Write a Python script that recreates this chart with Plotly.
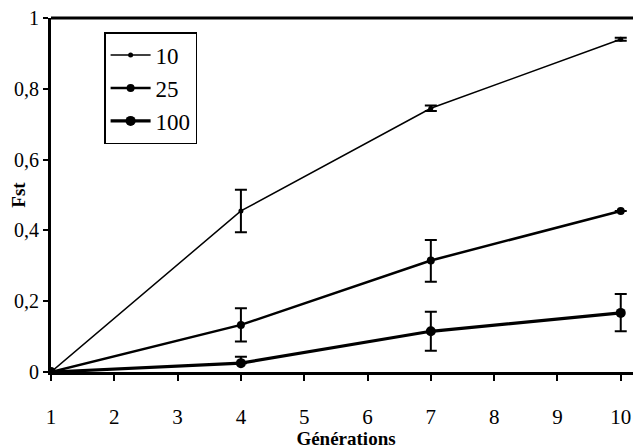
import plotly.graph_objects as go

generations = [1, 4, 7, 10]
series_names = ["10", "25", "100"]
fst_10 = [0.0, 0.455, 0.745, 0.94]
fst_25 = [0.0, 0.133, 0.315, 0.455]
fst_100 = [0.0, 0.025, 0.115, 0.167]
err_plus_10 = [0.0, 0.06, 0.008, 0.004]
err_minus_10 = [0.0, 0.06, 0.008, 0.004]
err_plus_25 = [0.0, 0.047, 0.058, 0.0]
err_minus_25 = [0.0, 0.047, 0.06, 0.0]
err_plus_100 = [0.0, 0.018, 0.055, 0.053]
err_minus_100 = [0.0, 0.0, 0.055, 0.052]

x_ticks = list(range(1, 11))
y_ticks = [0, 0.2, 0.4, 0.6, 0.8, 1]

font_fam = "Liberation Serif, serif"
series = [
    (series_names[0], fst_10, err_plus_10, err_minus_10, 1.5, 5),
    (series_names[1], fst_25, err_plus_25, err_minus_25, 2.5, 8),
    (series_names[2], fst_100, err_plus_100, err_minus_100, 3.2, 10),
]

fig = go.Figure()
for name, ys, ep, em, lw, ms in series:
    fig.add_trace(go.Scatter(
        x=generations, y=ys, name=name, mode="lines+markers",
        line=dict(color="black", width=lw),
        marker=dict(color="black", size=ms, symbol="circle"),
        error_y=dict(type="data", symmetric=False, array=ep, arrayminus=em,
                     color="black", thickness=2, width=6),
    ))

fig.update_layout(
    width=633, height=441,
    margin=dict(l=43, r=0, t=10, b=77),
    paper_bgcolor="white", plot_bgcolor="white",
    separators=",.",
    font=dict(family=font_fam, size=19, color="black"),
    showlegend=True,
    legend=dict(x=0.09, y=0.96, xanchor="left", yanchor="top",
                bordercolor="black", borderwidth=1.5, bgcolor="white",
                font=dict(family=font_fam, size=23, color="black"),
                itemwidth=40, tracegroupgap=10),
    xaxis=dict(range=[1, 10.32], tickvals=x_ticks, ticktext=[str(v) for v in x_ticks],
               showgrid=False, zeroline=False, showline=True, linecolor="black",
               linewidth=3, ticks="outside", ticklen=6, tickwidth=2, tickcolor="black",
               tickfont=dict(family=font_fam, size=21), ticklabelstandoff=18,
               automargin=False, ticklabeloverflow="allow",
               title=dict(text="<b>Générations</b>", font=dict(family=font_fam, size=19), standoff=13),
               mirror=False),
    yaxis=dict(range=[0, 1], tickvals=y_ticks,
               showgrid=False, zeroline=False, showline=True, linecolor="black",
               linewidth=3, ticks="outside", ticklen=5, tickwidth=2, tickcolor="black",
               tickfont=dict(family=font_fam, size=20), automargin=False,
               ticklabeloverflow="allow",
               title=dict(text="<b>Fst</b>", font=dict(family=font_fam, size=19), standoff=6)),
)
fig.add_shape(type="line", xref="paper", yref="paper", x0=0, x1=1, y0=1, y1=1,
              line=dict(color="black", width=3))

fig.write_html("out.html")
